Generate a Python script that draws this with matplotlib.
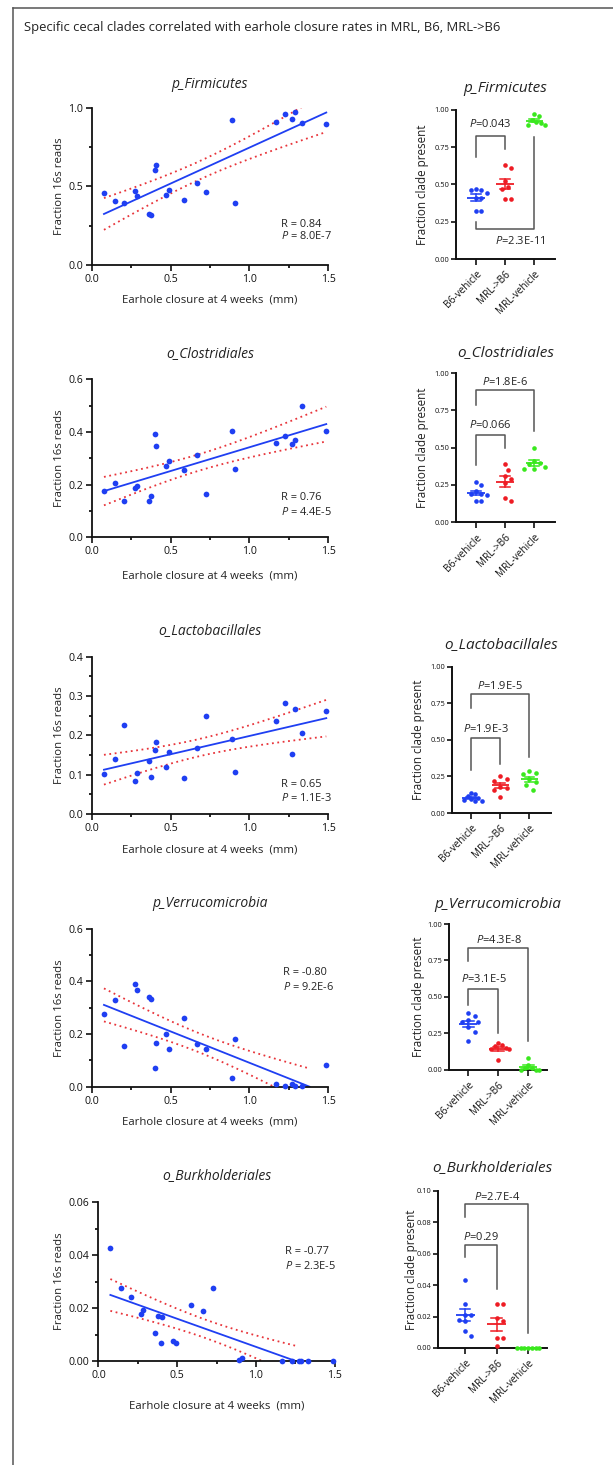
import numpy as np
import matplotlib
matplotlib.use("Agg")
import matplotlib.pyplot as plt
from matplotlib.lines import Line2D

plt.rcParams['font.family'] = ['Open Sans', 'DejaVu Sans']
plt.rcParams['mathtext.fontset'] = 'custom'
plt.rcParams['mathtext.rm'] = 'Open Sans'
plt.rcParams['mathtext.it'] = 'Open Sans:italic'

# ---------------- data ----------------
title = "Specific cecal clades correlated with earhole closure rates in MRL, B6, MRL->B6"
clades = ["p_Firmicutes", "o_Clostridiales", "o_Lactobacillales",
          "p_Verrucomicrobia", "o_Burkholderiales"]
groups = ["B6-vehicle", "MRL->B6", "MRL-vehicle"]

earhole = [0.076, 0.146, 0.205, 0.271, 0.286, 0.362, 0.377, 0.400, 0.407, 0.472, 0.492,
           0.587, 0.667, 0.727, 0.890, 0.909, 1.167, 1.227, 1.271, 1.288, 1.333, 1.489]

firm_reads = [0.460, 0.409, 0.392, 0.470, 0.439, 0.322, 0.316, 0.602, 0.633, 0.447, 0.479,
              0.413, 0.519, 0.464, 0.919, 0.396, 0.907, 0.960, 0.928, 0.970, 0.900, 0.898]
clos_reads = [0.176, 0.206, 0.137, 0.186, 0.195, 0.139, 0.158, 0.391, 0.348, 0.271, 0.289,
              0.254, 0.313, 0.166, 0.405, 0.259, 0.358, 0.385, 0.356, 0.371, 0.500, 0.405]
lact_reads = [0.101, 0.141, 0.227, 0.083, 0.103, 0.134, 0.095, 0.163, 0.184, 0.120, 0.158,
              0.092, 0.167, 0.248, 0.190, 0.108, 0.237, 0.282, 0.153, 0.267, 0.205, 0.261]
verr_reads = [0.275, 0.329, 0.153, 0.390, 0.367, 0.341, 0.332, 0.070, 0.166, 0.200, 0.142,
              0.262, 0.162, 0.144, 0.032, 0.180, 0.011, 0.002, 0.011, 0.002, 0.002, 0.081]
burk_reads = [0.0427, 0.0277, 0.0240, 0.0178, 0.0193, 0.0104, 0.0168, 0.0067, 0.0165, 0.0075,
              0.0067, 0.0210, 0.0189, 0.0277, 0.0003, 0.0010, 0.0, 0.0, 0.0, 0.0, 0.0, 0.0]

stats_r = ["R = 0.84", "R = 0.76", "R = 0.65", "R = -0.80", "R = -0.77"]
stats_p = ["8.0E-7", "4.4E-5", "1.1E-3", "9.2E-6", "2.3E-5"]

# dot-plot groups (B6-vehicle, MRL->B6, MRL-vehicle)
firm_b6 = [0.47, 0.46, 0.46, 0.44, 0.41, 0.41, 0.32, 0.32]
firm_mrlb6 = [0.63, 0.61, 0.52, 0.48, 0.47, 0.40, 0.40]
firm_mrl = [0.97, 0.96, 0.93, 0.92, 0.91, 0.90, 0.90]

clos_b6 = [0.27, 0.25, 0.21, 0.19, 0.19, 0.18, 0.14, 0.14]
clos_mrlb6 = [0.39, 0.35, 0.31, 0.29, 0.26, 0.165, 0.14]
clos_mrl = [0.50, 0.41, 0.40, 0.39, 0.37, 0.36, 0.36]

lact_b6 = [0.14, 0.13, 0.115, 0.10, 0.095, 0.09, 0.085, 0.08]
lact_mrlb6 = [0.25, 0.23, 0.22, 0.18, 0.17, 0.16, 0.11]
lact_mrl = [0.285, 0.27, 0.265, 0.23, 0.21, 0.19, 0.155]

verr_b6 = [0.39, 0.37, 0.34, 0.33, 0.33, 0.29, 0.26, 0.20]
verr_mrlb6 = [0.18, 0.17, 0.16, 0.15, 0.14, 0.14, 0.07]
verr_mrl = [0.08, 0.03, 0.01, 0.01, 0.0, 0.0, 0.0]

burk_b6 = [0.043, 0.028, 0.021, 0.021, 0.018, 0.017, 0.0105, 0.0078]
burk_mrlb6 = [0.028, 0.028, 0.019, 0.017, 0.0065, 0.0065, 0.001]
burk_mrl = [0.0, 0.0, 0.0, 0.0, 0.0, 0.0, 0.0]

# brackets: (label, group_a, group_b, y_bar, y_leg_a, y_leg_b, y_text)
firm_brackets = [("0.043", 0, 1, 0.826, 0.685, 0.734, 0.904),
                 ("2.3E-11", 0, 2, 0.199, 0.25, 0.815, 0.12)]
clos_brackets = [("1.8E-6", 0, 2, 0.888, 0.786, 0.614, 0.9375),
                 ("0.066", 0, 1, 0.583, 0.384, 0.496, 0.652)]
lact_brackets = [("1.9E-5", 0, 2, 0.815, 0.715, 0.385, 0.87),
                 ("1.9E-3", 0, 1, 0.51, 0.294, 0.335, 0.574)]
verr_brackets = [("4.3E-8", 0, 2, 0.8375, 0.748, 0.199, 0.89),
                 ("3.1E-5", 0, 1, 0.554, 0.444, 0.249, 0.62)]
burk_brackets = [("2.7E-4", 0, 2, 0.0917, 0.0835, 0.0093, 0.0962),
                 ("0.29", 0, 1, 0.0655, 0.0576, 0.0375, 0.0708)]

# ---------------- layout ----------------
W, H = 613, 1465
fig = plt.figure(figsize=(W / 100, H / 100), dpi=100)

BLUE = "#1f3ff2"
RED = "#ee1c24"
GREEN = "#3ae81e"
CI_RED = "#e8343a"
BR_GREY = "#555555"
TXT = "#222222"


def ax_px(left, top, right, bottom):
    return fig.add_axes([left / W, 1 - bottom / H, (right - left) / W, (bottom - top) / H])


# frame
fig.add_artist(Line2D([12.5 / W, 12.5 / W], [0, 1 - 7.5 / H], color="#555555", lw=1.1))
fig.add_artist(Line2D([12.5 / W, 1.0], [1 - 7.5 / H, 1 - 7.5 / H], color="#555555", lw=1.1))
fig.text(24 / W, 1 - 28 / H, title, fontsize=9.4, ha="left", va="center", color=TXT)

scatter_series = [firm_reads, clos_reads, lact_reads, verr_reads, burk_reads]
scatter_boxes = [(92, 107.7, 328, 265), (92, 379.3, 328, 537.3), (92, 656.7, 328, 814),
                 (92, 928.7, 328, 1086.7), (98.4, 1202, 334.6, 1361)]
scatter_ylims = [(1.0, 0.5, 0.25, "%.1f"), (0.6, 0.2, 0.1, "%.1f"), (0.4, 0.1, 0.05, "%.1f"),
                 (0.6, 0.2, 0.1, "%.1f"), (0.06, 0.02, 0.01, "%.2f")]
scatter_title_y = [84, 354, 630.7, 903, 1175.7]
scatter_xlabel_top = [295, 570, 844.7, 1117, 1401]
stat_pos = [(0.80, 0.26, 0.185), (0.80, 0.255, 0.16), (0.80, 0.19, 0.10),
            (0.81, 0.725, 0.63), (0.79, 0.69, 0.60)]

x = np.array(earhole)
for i in range(5):
    y = np.array(scatter_series[i])
    l, t, r, b = scatter_boxes[i]
    ax = ax_px(l, t, r, b)
    ymax, major, minor, fmt = scatter_ylims[i]
    ax.set_xlim(0, 1.5)
    ax.set_ylim(0, ymax)
    ax.set_xticks(np.arange(0, 1.51, 0.5))
    ax.set_xticks(np.arange(0.25, 1.5, 0.5), minor=True)
    ax.set_yticks(np.arange(0, ymax + 1e-9, major))
    ax.set_yticks(np.arange(minor, ymax, major), minor=True)
    ax.set_xticklabels(["%.1f" % v for v in np.arange(0, 1.51, 0.5)])
    ax.set_yticklabels([fmt % v for v in np.arange(0, ymax + 1e-9, major)])
    for s in ["top", "right"]:
        ax.spines[s].set_visible(False)
    for s in ["left", "bottom"]:
        ax.spines[s].set_linewidth(1.3)
        ax.spines[s].set_color("#111111")
    ax.tick_params(which="major", length=4.5, width=1.2, labelsize=7.6, pad=2, colors="#111111")
    ax.tick_params(which="minor", length=2.5, width=1.2)
    # regression with 95% CI
    a, c = np.polyfit(x, y, 1)
    n = len(x)
    resid = y - (a * x + c)
    s_err = np.sqrt(np.sum(resid ** 2) / (n - 2))
    sxx = np.sum((x - x.mean()) ** 2)
    tval = 2.086
    x_end = x.max()
    if a < 0 and -c / a < x_end:
        x_end = -c / a
    xf = np.linspace(x.min(), x_end, 200)
    yf = a * xf + c
    half = tval * s_err * np.sqrt(1 / n + (xf - x.mean()) ** 2 / sxx)
    ax.plot(xf, yf + half, color=CI_RED, lw=1.3, ls=(0, (1, 2)))
    ax.plot(xf, yf - half, color=CI_RED, lw=1.3, ls=(0, (1, 2)))
    ax.plot(xf, yf, color=BLUE, lw=1.3)
    ax.scatter(x, y, s=17, color=BLUE, zorder=5, clip_on=False, linewidths=0)
    sx, ry, py = stat_pos[i]
    ax.text(sx, ry, stats_r[i], transform=ax.transAxes, fontsize=7.9, ha="left", va="center", color=TXT)
    ax.text(sx, py, r"$\mathit{P}$ = " + stats_p[i], transform=ax.transAxes, fontsize=7.9,
            ha="left", va="center", color=TXT)
    fig.text((l + r) / 2 / W, 1 - scatter_title_y[i] / H, clades[i], fontsize=10, style="italic",
             ha="center", va="center", color=TXT)
    ax.set_xlabel("Earhole closure at 4 weeks  (mm)", fontsize=8.2, color=TXT)
    ax.xaxis.set_label_coords(0.5, -(scatter_xlabel_top[i] - b) / (b - t))
    ax.set_ylabel("Fraction 16s reads", fontsize=8.2, color=TXT)
    ax.yaxis.set_label_coords(-(l - 65) / (r - l), 0.5)

# ---------------- dot plots ----------------
dot_groups = [(firm_b6, firm_mrlb6, firm_mrl), (clos_b6, clos_mrlb6, clos_mrl),
              (lact_b6, lact_mrlb6, lact_mrl), (verr_b6, verr_mrlb6, verr_mrl),
              (burk_b6, burk_mrlb6, burk_mrl)]
dot_brackets = [firm_brackets, clos_brackets, lact_brackets, verr_brackets, burk_brackets]
dot_boxes = [(456, 109.7, 555, 259), (456, 373, 555, 522.3), (452, 666.7, 551, 813),
             (449, 924, 547, 1069.7), (438, 1190.7, 547, 1348)]
dot_xlims = [(-0.69, 2.71), (-0.69, 2.71), (-0.66, 2.74), (-0.65, 2.62), (-0.86, 2.6)]
dot_ymax = [1.0, 1.0, 1.0, 1.0, 0.1]
dot_titles_y = [89, 352.7, 645, 904, 1168]
dot_ylabel_x = [429, 429, 425, 425, 418]
colors = [BLUE, RED, GREEN]


def swarm(vals, ypx, xpx, dpx, maxhalf):
    vals = np.asarray(vals, float)
    order = np.argsort(-vals)
    placed = []
    offs = np.zeros(len(vals))
    cands = [0]
    for m in range(1, 12):
        cands += [m * 0.5, -m * 0.5]
    for idx in order:
        yy = vals[idx] * ypx
        xx = 0.0
        for cnd in cands:
            xx = cnd * dpx
            if all((xx - px) ** 2 + (yy - py) ** 2 >= (dpx * 0.98) ** 2 for px, py in placed):
                break
        placed.append((xx, yy))
        offs[idx] = xx / xpx
    m = np.abs(offs).max()
    if m > maxhalf:
        offs *= maxhalf / m
    return offs


for i in range(5):
    l, t, r, b = dot_boxes[i]
    ax = ax_px(l, t, r, b)
    x0, x1 = dot_xlims[i]
    ymax = dot_ymax[i]
    ax.set_xlim(x0, x1)
    ax.set_ylim(0, ymax)
    ypx = (b - t) / ymax
    xpx = (r - l) / (x1 - x0)
    for g in range(3):
        vals = np.array(dot_groups[i][g])
        offs = swarm(vals, ypx, xpx, 6.2, 0.36)
        ax.scatter(g + offs, vals, s=11, color=colors[g], zorder=5, clip_on=False, linewidths=0)
        mu = vals.mean()
        sem = vals.std(ddof=1) / np.sqrt(len(vals))
        ax.plot([g - 0.3, g + 0.3], [mu, mu], color=colors[g], lw=1.3, zorder=6,
                solid_capstyle="butt", clip_on=False)
        ax.plot([g, g], [mu - sem, mu + sem], color=colors[g], lw=1.1, zorder=6, clip_on=False)
        for yy in (mu - sem, mu + sem):
            ax.plot([g - 0.17, g + 0.17], [yy, yy], color=colors[g], lw=1.1, zorder=6, clip_on=False)
    for (lab, ga, gb, ybar, yla, ylb, ytx) in dot_brackets[i]:
        ax.plot([ga, ga, gb, gb], [yla, ybar, ybar, ylb], color=BR_GREY, lw=1.1, clip_on=False)
        xt = 1.5 if ytx < ybar else (ga + gb) / 2
        ax.text(xt, ytx, r"$\mathit{P}$=" + lab, fontsize=8, ha="center", va="center", color=TXT)
    yt = np.linspace(0, ymax, 5 if ymax == 1.0 else 6)
    ax.set_yticks(yt)
    ax.set_yticklabels(["%.2f" % v for v in yt])
    ax.set_xticks([0, 1, 2])
    ax.set_xticklabels(groups, rotation=45, ha="right", rotation_mode="anchor")
    for s in ["top", "right"]:
        ax.spines[s].set_visible(False)
    for s in ["left", "bottom"]:
        ax.spines[s].set_linewidth(1.4)
        ax.spines[s].set_color("#111111")
    ax.tick_params(axis="y", length=3.5, width=1.2, labelsize=5.4, pad=1.5, colors="#111111")
    ax.tick_params(axis="x", length=4, width=1.2, labelsize=7.2, pad=3, colors="#111111")
    ax.set_ylabel("Fraction clade present", fontsize=8.4, color=TXT)
    ax.yaxis.set_label_coords(-(l - dot_ylabel_x[i]) / (r - l), 0.5)
    fig.text((l + r) / 2 / W, 1 - dot_titles_y[i] / H, clades[i], fontsize=11, style="italic",
             ha="center", va="center", color=TXT)

fig.savefig("out.png", dpi=100, facecolor="white")
